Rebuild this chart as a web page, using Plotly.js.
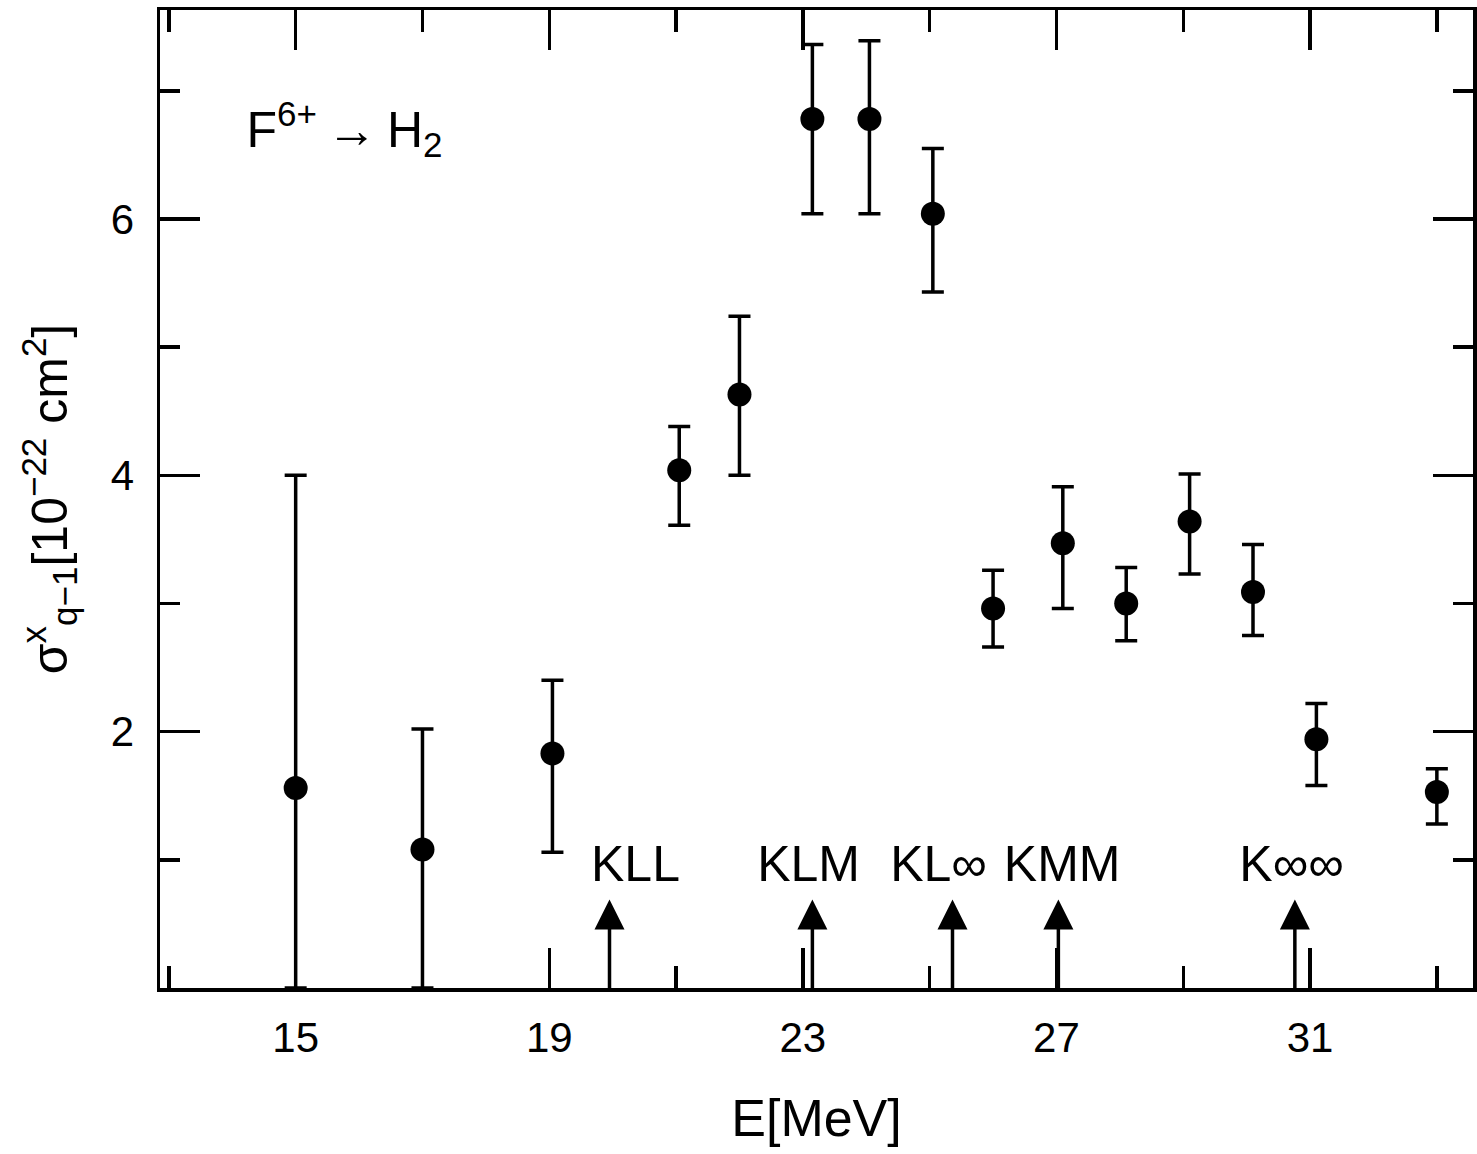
<!DOCTYPE html>
<html><head><meta charset="utf-8">
<script src="https://cdn.plot.ly/plotly-3.0.1.min.js"></script>
<style>html,body{margin:0;padding:0;background:#fff;overflow:hidden}</style>
</head><body><div id="chart" style="width:1477px;height:1154px"></div>
<script>
// Data
const energy   = [15, 17, 19.05, 21.05, 22.0, 23.15, 24.05, 25.05, 26.0, 27.1, 28.1, 29.1, 30.1, 31.1, 33.0];
const sigma    = [1.56, 1.08, 1.83, 4.04, 4.63, 6.78, 6.78, 6.04, 2.96, 3.47, 3.00, 3.64, 3.09, 1.94, 1.53];
const errUpper = [4.00, 2.02, 2.40, 4.38, 5.24, 7.36, 7.39, 6.55, 3.26, 3.91, 3.28, 4.01, 3.46, 2.22, 1.71];
const errLower = [0.00, 0.00, 1.06, 3.61, 4.00, 6.04, 6.04, 5.43, 2.66, 2.96, 2.71, 3.23, 2.75, 1.58, 1.28];
const thresholdLabels = ["KLL", "KLM", "KL\u221E", "KMM", "K\u221E\u221E"];
const thresholdEnergy = [19.95, 23.15, 25.36, 27.03, 30.76];
const xTickVals = [15, 19, 23, 27, 31];
const xTickText = ["15", "19", "23", "27", "31"];
const yTickVals = [2, 4, 6];
const yTickText = ["2", "4", "6"];

// styling / placement constants
const FONT = "Liberation Sans, Arial, Helvetica, sans-serif";
const arrowTip = 0.69;
const labelY = 0.93;
const labelOffset = [0.41, -0.06, -0.22, 0.06, -0.05]; // label nudges in MeV
const reactionPos = {x: 15.77, y: 6.66};

const trace = {
  x: energy, y: sigma, type: 'scatter', mode: 'markers',
  marker: {color: 'black', size: 24},
  error_y: {
    type: 'data', symmetric: false,
    array: errUpper.map((u, i) => u - sigma[i]),
    arrayminus: errLower.map((l, i) => sigma[i] - l),
    color: 'black', thickness: 3.5, width: 11
  },
  showlegend: false
};

const shafts = {
  x: thresholdEnergy.flatMap(e => [e, e, null]),
  y: thresholdEnergy.flatMap(() => [0, arrowTip - 0.06, null]),
  type: 'scatter', mode: 'lines', line: {color: 'black', width: 3.5},
  showlegend: false, hoverinfo: 'skip'
};
const heads = {
  x: thresholdEnergy, y: thresholdEnergy.map(() => arrowTip),
  type: 'scatter', mode: 'markers',
  marker: {symbol: 'arrow-up', size: 30, color: 'black', line: {width: 0}},
  showlegend: false, hoverinfo: 'skip'
};
const labels = {
  x: thresholdEnergy.map((e, i) => e + labelOffset[i]), y: thresholdEnergy.map(() => labelY),
  text: thresholdLabels, type: 'scatter', mode: 'text', textposition: 'middle center',
  textfont: {family: FONT, size: 50, color: 'black'},
  showlegend: false, hoverinfo: 'skip'
};
const reaction = {
  x: [reactionPos.x], y: [reactionPos.y],
  text: ['F<sup>6+</sup>\u2009\u2192\u2009H<sub>2</sub>'], type: 'scatter', mode: 'text',
  textposition: 'middle center', textfont: {family: FONT, size: 50, color: 'black'},
  showlegend: false, hoverinfo: 'skip'
};

const axisCommon = {
  showline: true, linecolor: 'black', linewidth: 3.5, mirror: 'allticks',
  ticks: 'inside', tickcolor: 'black', tickwidth: 3.5, ticklen: 40,
  showgrid: false, zeroline: false,
  tickfont: {family: FONT, size: 42, color: 'black'}
};

const layout = {
  width: 1477, height: 1154,
  margin: {l: 160, r: 4, t: 10, b: 166},
  xaxis: Object.assign({}, axisCommon, {
    range: [12.86, 33.57], tickmode: 'array', tickvals: xTickVals, ticktext: xTickText,
    minor: {ticks: 'inside', tick0: 13, dtick: 2, ticklen: 22, tickwidth: 3.5, tickcolor: 'black', showgrid: false},
    ticklabelstandoff: 10,
    title: {text: 'E[MeV]', font: {family: FONT, size: 52, color: 'black'}, standoff: 40}
  }),
  yaxis: Object.assign({}, axisCommon, {
    range: [0, 7.63], tickmode: 'array', tickvals: yTickVals, ticktext: yTickText,
    minor: {ticks: 'inside', tick0: 0, dtick: 1, ticklen: 20, tickwidth: 3.5, tickcolor: 'black', showgrid: false},
    ticklabelstandoff: 14,
    title: {text: '\u03C3<sup>x</sup><sub>q\u22121</sub>[10<sup>\u221222</sup> cm<sup>2</sup>]',
            font: {family: FONT, size: 50, color: 'black'}, standoff: 28}
  })
};

Plotly.newPlot('chart', [shafts, heads, trace, labels, reaction], layout, {displayModeBar: false, staticPlot: true});
</script>
</body></html>
